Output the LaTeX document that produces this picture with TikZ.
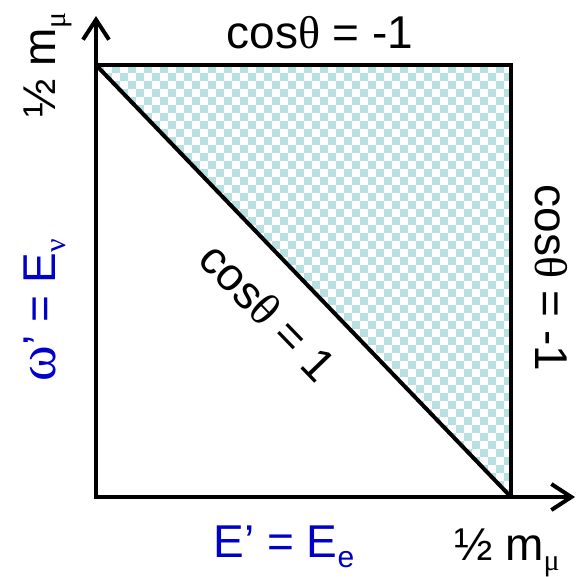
\documentclass[tikz,border=0pt]{standalone}
\usepackage{fontspec}
\setmainfont{Liberation Sans}
\newfontfamily\grk{Liberation Serif}
\usetikzlibrary{arrows.meta}
\definecolor{chk}{HTML}{B8E0E2}
\definecolor{lblblue}{HTML}{0000C8}
\newcommand\mysub[1]{\raisebox{-0.22em}{\fontsize{30}{32}\selectfont #1}}
\begin{document}
\begin{tikzpicture}[x=1pt,y=-1pt, line width=4pt,
  lbl/.style={font=\fontsize{46}{50}\selectfont, inner sep=0pt},
  axis/.style={-{Straight Barb[length=20pt,width=26pt,line width=4pt]}, line cap=rect}]
\useasboundingbox (0,0) rectangle (578,576);
\coordinate (O) at (96,497);
\coordinate (A) at (96,65);
\coordinate (B) at (511,65);
\coordinate (C) at (511,497);
\coordinate (ytip) at (96,16);
\coordinate (xtip) at (575,497);
\begin{scope}
 \clip (A) -- (B) -- (C) -- cycle;
 \foreach \i in {0,...,52}{
   \foreach \j in {0,2,...,54}{
     \pgfmathtruncatemacro\jj{\j+mod(\i,2)}
     \fill[chk] (96+8*\i, 65+8*\jj) rectangle ++(8,8);
   }}
\end{scope}
\draw[line cap=rect] (A) -- (B) -- (C);
\draw (A) -- (C);
\draw[axis] (O) -- (ytip);
\draw[axis] (O) -- (xtip);
\node[lbl, anchor=base] (top) at (320,48) {cos{\grk θ} = -1};
\node[lbl, anchor=base, rotate=-90] (right) at (535,278) {cos{\grk θ} = -1};
\node[lbl, rotate=-46] (diag) at (268,312) {cos{\grk θ} = 1};
\node[lbl, anchor=base, rotate=90] (ylab) at (55,65) {½ m\mysub{\grk μ}};
\node[lbl, anchor=base, rotate=90, text=lblblue] (yvar) at (55,310) {{\grk\fontsize{54}{56}\selectfont ω}’ = E\mysub{\grk ν}};
\node[lbl, anchor=base, text=lblblue] (xvar) at (284,557) {E’ = E\mysub{e}};
\node[lbl, anchor=base] (xlab) at (507,560) {½ m\mysub{\grk μ}};
\end{tikzpicture}
\end{document}
